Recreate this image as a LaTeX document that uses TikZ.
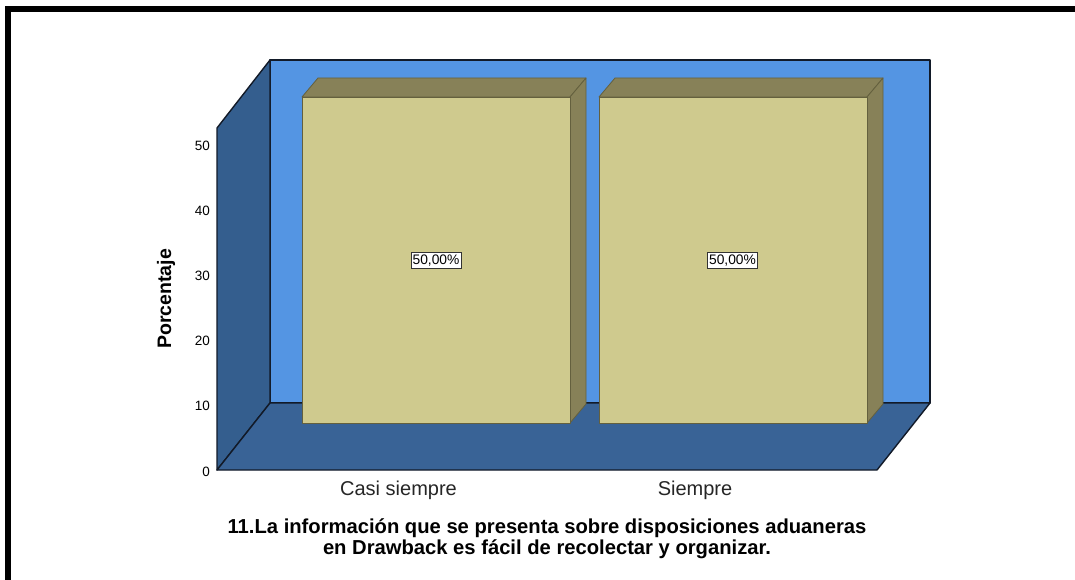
\documentclass[tikz,border=0pt]{standalone}
\usepackage{fontspec}
\setmainfont{Liberation Sans}
\definecolor{backwall}{RGB}{84,149,227}
\definecolor{sidewall}{RGB}{52,94,142}
\definecolor{floorc}{RGB}{57,99,150}
\definecolor{barfront}{RGB}{207,202,142}
\definecolor{barside}{RGB}{135,129,88}
\definecolor{edgec}{RGB}{18,26,40}
\definecolor{baredge}{RGB}{100,96,62}
\tikzset{
  wall/.style={draw=edgec, line width=1.4pt, line join=round},
  barface/.style={draw=baredge, line width=0.8pt, line join=round},
  ticklab/.style={anchor=east, inner sep=0pt, font=\fontsize{13.5}{14}\selectfont},
  catlab/.style={inner sep=0pt, font=\fontsize{20}{22}\selectfont, text=black!85},
  vallab/.style={draw=black!80, fill=white, line width=0.8pt, inner xsep=1.5pt, inner ysep=2.5pt, font=\fontsize{13.8}{14}\selectfont},
}
\begin{document}
\begin{tikzpicture}[x=1pt,y=-1pt]
\useasboundingbox (0,0) rectangle (1075,580);
\clip (0,0) rectangle (1075,580);
\fill[white] (0,0) rectangle (1075,580);
% frame
\draw[line width=6pt, line join=miter] (8,600) -- (8,9) -- (1100,9);
% walls
\fill[backwall] (270,60) rectangle (930,403);
\draw[wall] (270,60) rectangle (930,403);
\filldraw[wall, fill=sidewall] (217,128) -- (270,60) -- (270,403) -- (217,470) -- cycle;
\filldraw[wall, fill=floorc] (217,470) -- (270,403) -- (930,403) -- (877,470) -- cycle;
% bar 1
\filldraw[barface, fill=barside] (302,97) -- (318,78) -- (586,78) -- (570,97) -- cycle;
\filldraw[barface, fill=barside] (570,97) -- (586,78) -- (586,404) -- (570,423) -- cycle;
\filldraw[barface, fill=barfront] (302,97) rectangle (570,423);
% bar 2
\filldraw[barface, fill=barside] (599,97) -- (615,78) -- (883,78) -- (867,97) -- cycle;
\filldraw[barface, fill=barside] (867,97) -- (883,78) -- (883,404) -- (867,423) -- cycle;
\filldraw[barface, fill=barfront] (599,97) rectangle (867,423);
% value labels
\node[vallab] (v1) at (436,260.5) {50,00\%};
\node[vallab] (v2) at (732.5,260.5) {50,00\%};
% ticks
\node[ticklab] (t0) at (210,471.5) {0};
\node[ticklab] (t10) at (210,406.3) {10};
\node[ticklab] (t20) at (210,341.1) {20};
\node[ticklab] (t30) at (210,275.9) {30};
\node[ticklab] (t40) at (210,210.7) {40};
\node[ticklab] (t50) at (210,145.5) {50};
% axis title
\node[rotate=90, inner sep=0pt, font=\fontsize{19.5}{21}\selectfont\bfseries] (yt) at (166,299) {Porcentaje};
% categories
\node[catlab] (c1) at (398.5,490) {Casi siempre};
\node[catlab] (c2) at (695,490) {Siempre};
% title
\node[align=center, inner sep=0pt, font=\fontsize{20.2}{21}\selectfont\bfseries] (ttl) at (547,538.5)
  {11.La información que se presenta sobre disposiciones aduaneras\\en Drawback es fácil de recolectar y organizar.};
\end{tikzpicture}
\end{document}
